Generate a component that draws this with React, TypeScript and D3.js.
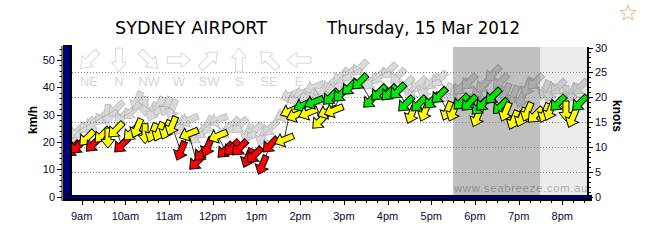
import React from "react";
import * as d3 from "d3";

const times = [
  "08:47","08:55","09:07","09:16","09:28","09:36","09:47","09:55","10:08","10:16",
  "10:27","10:37","10:46","10:56","11:04","11:16","11:27","11:38","11:45","11:53",
  "12:07","12:17","12:26","12:37","12:48","12:57","13:08","13:19","13:38","13:46",
  "13:54","14:04","14:11","14:19","14:27","14:37","14:42","14:46","14:56","15:08",
  "15:22","15:37","15:48","16:02","16:14","16:25","16:33","16:43","16:51","17:01",
  "17:11","17:22","17:30","17:41","17:52","18:03","18:06","18:12","18:25","18:35",
  "18:42","18:53","19:04","19:12","19:23","19:36","19:43","19:54","20:05","20:14",
  "20:24"
];
const speedKmh = [
  17.4,18.5,21.4,19.2,22.5,21.4,24.4,18.9,23.3,25.0,
  23.0,23.3,23.7,24.4,25.8,16.7,22.9,12.6,15.9,18.1,
  22.2,17.0,17.8,17.8,14.1,15.2,11.5,18.9,20.8,31.3,
  29.8,33.5,30.6,34.6,27.6,31.0,36.4,31.5,37.5,40.0,
  42.0,35.3,38.0,38.0,38.6,33.9,30.2,33.9,31.0,35.0,
  37.0,31.3,31.0,34.6,34.2,29.0,32.8,34.2,36.8,33.0,
  31.0,28.0,29.0,31.0,29.8,30.6,31.3,34.2,31.3,28.7,
  34.2
];
const gustKmh = [
  21,24,26,27,29,30,32,29,31,35,
  33,31,33,33,32,26,28,22,24,26,
  28,24,26,26,23,24,22,25,30,37,
  36,38,37,40,36,39,41,40,44,45,
  47,42,44,46,44,41,38,41,39,42,
  43,38,37,40,42,37,39,41,45,42,
  38,37,36,40,42,39,38,40,37,38,
  40
];
const directions = [
  "NE","NE","NE","NE","NE","N","NE","NE","NE","NNE",
  "N","NNE","NNE","NNE","NNE","NNE","ENE","NE","NE","NNE",
  "ENE","NE","NE","NE","NNE","NE","NNE","NE","ENE","ENE",
  "ENE","ENE","ENE","ENE","NE","ENE","NE","ENE","NE","NE",
  "NE","NE","NE","NE","NE","NE","NNE","NE","NNE","NE",
  "NE","NNE","NNE","NE","NE","NNE","NE","NE","NE","NE",
  "NNE","NNE","NNE","NNE","NE","NNE","NNE","NE","N","NNE",
  "NE"
];
const hourLabels = ["9am","10am","11am","12pm","1pm","2pm","3pm","4pm","5pm","6pm","7pm","8pm"];
const kmhTicks = [0, 10, 20, 30, 40, 50];
const knotTicks = [0, 5, 10, 15, 20, 25, 30];
const legendDirs = ["NE", "N", "NW", "W", "SW", "S", "SE", "E"];
const duskStart = "17:30";
const nightStart = "19:30";
const titleText = "SYDNEY AIRPORT";
const dateText = "Thursday, 15 Mar 2012";
const watermark = "www.seabreeze.com.au";

const compass: Record<string, number> = {
  N: 0, NNE: 22.5, NE: 45, ENE: 67.5, E: 90, ESE: 112.5, SE: 135, SSE: 157.5,
  S: 180, SSW: 202.5, SW: 225, WSW: 247.5, W: 270, WNW: 292.5, NW: 315, NNW: 337.5,
};

const parse = (s: string) => {
  const [h, m] = s.split(":").map(Number);
  return new Date(2012, 2, 15, h, m);
};

function arrowPath(len: number, shaft: number, head: number, headLen: number) {
  const t = -len / 2, tip = len / 2, hb = tip - headLen;
  return `M${t},${-shaft}L${hb},${-shaft}L${hb},${-head}L${tip},0L${hb},${head}L${hb},${shaft}L${t},${shaft}Z`;
}

function starPath(cx: number, cy: number, r1: number, r2: number) {
  const pts: string[] = [];
  for (let i = 0; i < 10; i++) {
    const r = i % 2 === 0 ? r1 : r2;
    const a = (Math.PI / 5) * i - Math.PI / 2;
    pts.push(`${cx + r * Math.cos(a)},${cy + r * Math.sin(a)}`);
  }
  return "M" + pts.join("L") + "Z";
}

export default function App() {
  const W = 646, H = 248;
  const left = 72, right = 587.5, top = 47, bottom = 195;
  const x = d3.scaleTime().domain([parse("09:00"), parse("20:00")]).range([81.7, 562.3]);
  const yK = d3.scaleLinear().domain([0, 55]).range([196.5, 46.35]);
  const yKn = d3.scaleLinear().domain([0, 30]).range([196.5, 47.5]);
  const legendX = d3.scalePoint<string>().domain(legendDirs).range([89, 299]);

  const data = times.map((t, i) => ({
    t: parse(t), s: speedKmh[i], g: gustKmh[i], d: compass[directions[i]],
  }));
  const color = (s: number) => (s < 20.3 ? "#ff0000" : s < 32.3 ? "#ffff00" : "#00e600");
  const arrow = arrowPath(20, 3, 7, 8.5);
  const legendArrow = arrowPath(24, 3.2, 7.5, 10);

  const speedLine = d3.line<any>().x((d) => x(d.t)).y((d) => yK(d.s));
  const gustLine = d3.line<any>().x((d) => x(d.t)).y((d) => yK(d.g));

  const hourTicks = d3.timeHour.range(parse("09:00"), parse("20:01"));
  const quarterTicks = d3.timeMinute.every(15)!.range(parse("08:50"), parse("20:40"))
    .filter((d) => x(d) > left && x(d) < right);
  const kmhMinor = d3.range(0, 56, 2);
  const knotMinor = d3.range(0, 31, 1);

  const axisFont = "'Liberation Sans', Arial, sans-serif";
  const xDusk = x(parse(duskStart)), xNight = x(parse(nightStart));

  return (
    <svg width={W} height={H} style={{ display: "block", position: "absolute", left: 0, top: 0 }}>
      <rect x={0} y={0} width={W} height={H} fill="#fff" />
      {/* shaded bands */}
      <rect x={xDusk} y={top} width={xNight - xDusk} height={bottom - top} fill="#c0c0c0" />
      <rect x={xNight} y={top} width={right - xNight} height={bottom - top} fill="#ebebeb" />
      {/* gridlines at knots */}
      {knotTicks.filter((k) => k > 0 && k < 30).map((k) => (
        <line key={k} x1={left} x2={right} y1={Math.round(yKn(k)) + 0.5} y2={Math.round(yKn(k)) + 0.5}
          stroke="#888" strokeWidth={1} strokeDasharray="1,2" />
      ))}
      {/* legend */}
      {legendDirs.map((d) => (
        <g key={d}>
          <path d={legendArrow} transform={`translate(${legendX(d)},60) rotate(${compass[d] + 90})`}
            fill="#fff" stroke="#d6d6d6" strokeWidth={1} />
          <text x={legendX(d)} y={86} textAnchor="middle" fontFamily={axisFont} fontSize={13}
            fill="#d6d6d6">{d}</text>
        </g>
      ))}
      {/* watermark */}
      <text x={521} y={192} textAnchor="middle" fontFamily={axisFont} fontSize={11.5} fill="#000"
        fillOpacity={0.3} letterSpacing={0.6}>{watermark}</text>
      {/* gust series */}
      <path d={gustLine(data) || ""} fill="none" stroke="#c8c8c8" strokeWidth={0.8} />
      <g opacity={0.24}>
        {data.map((d, i) => (
          <path key={i} d={arrow} transform={`translate(${x(d.t)},${yK(d.g)}) rotate(${d.d + 90})`}
            fill="#666" stroke="#000" strokeWidth={1} />
        ))}
      </g>
      {/* speed series */}
      <path d={speedLine(data) || ""} fill="none" stroke="#000" strokeWidth={0.8} />
      {data.map((d, i) => (
        <path key={i} d={arrow} transform={`translate(${x(d.t)},${yK(d.s)}) rotate(${d.d + 90})`}
          fill={color(d.s)} stroke="#000" strokeWidth={1} strokeLinejoin="miter" />
      ))}
      {/* walls */}
      <rect x={63.5} y={45.5} width={8} height={155} fill="#000080" stroke="#000" strokeWidth={1} />
      <line x1={70.5} x2={70.5} y1={46} y2={200} stroke="#000" strokeWidth={2} />
      <rect x={63.5} y={195.5} width={528} height={5} fill="#000080" stroke="#000" strokeWidth={1} />
      <line x1={64} x2={591.5} y1={199.5} y2={199.5} stroke="#000" strokeWidth={2} />
      {/* left axis */}
      <line x1={62} x2={62} y1={46} y2={201} stroke="#000" strokeWidth={1} />
      {kmhMinor.map((v) => (
        <line key={v} x1={59.5} x2={62} y1={Math.round(yK(v)) + 0.5} y2={Math.round(yK(v)) + 0.5}
          stroke="#000" strokeWidth={1} />
      ))}
      {kmhTicks.map((v) => (
        <g key={v}>
          <line x1={57} x2={62} y1={Math.round(yK(v)) + 0.5} y2={Math.round(yK(v)) + 0.5} stroke="#000" />
          <text x={55} y={yK(v) + 4} textAnchor="end" fontFamily={axisFont} fontSize={11} fill="#0a0a30">{v}</text>
        </g>
      ))}
      <text transform="translate(37,120) rotate(-90)" textAnchor="middle" fontFamily={axisFont}
        fontSize={12} fontWeight="bold" fill="#000">km/h</text>
      {/* right axis */}
      <line x1={588} x2={588} y1={47} y2={197} stroke="#000" strokeWidth={2} />
      {knotMinor.map((v) => (
        <line key={v} x1={589} x2={591} y1={Math.round(yKn(v)) + 0.5} y2={Math.round(yKn(v)) + 0.5}
          stroke="#000" />
      ))}
      {knotTicks.map((v) => (
        <g key={v}>
          <line x1={589} x2={593} y1={Math.round(yKn(v)) + 0.5} y2={Math.round(yKn(v)) + 0.5} stroke="#000" />
          <text x={595} y={yKn(v) + 4} fontFamily={axisFont} fontSize={11} fill="#0a0a30">{v}</text>
        </g>
      ))}
      <text transform="translate(613,116) rotate(90)" textAnchor="middle" fontFamily={axisFont}
        fontSize={12} fontWeight="bold" fill="#000">knots</text>
      {/* bottom axis */}
      {quarterTicks.map((d, i) => (
        <line key={i} x1={Math.round(x(d)) + 0.5} x2={Math.round(x(d)) + 0.5} y1={201} y2={203} stroke="#000" />
      ))}
      {hourTicks.map((d, i) => (
        <g key={i}>
          <line x1={Math.round(x(d)) + 0.5} x2={Math.round(x(d)) + 0.5} y1={201} y2={205} stroke="#000" />
          <text x={x(d)} y={220} textAnchor="middle" fontFamily={axisFont} fontSize={11} fill="#0a0a30">
            {hourLabels[i]}
          </text>
        </g>
      ))}
      {/* titles */}
      <text x={115} y={34} fontFamily="'DejaVu Sans', sans-serif" fontSize={17} fill="#000"
        textLength={152} lengthAdjust="spacingAndGlyphs">{titleText}</text>
      <text x={327} y={34} fontFamily="'DejaVu Sans', sans-serif" fontSize={17} fill="#000"
        textLength={193} lengthAdjust="spacingAndGlyphs">{dateText}</text>
      <path d={starPath(628, 13, 8, 3.6)} fill="none" stroke="#f6c28c" strokeWidth={1.2} />
    </svg>
  );
}
